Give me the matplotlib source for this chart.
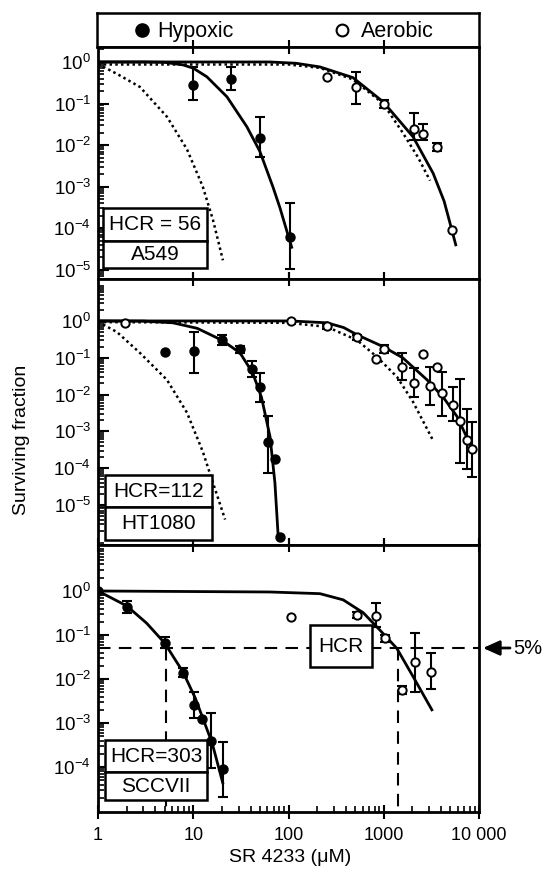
import numpy as np
import matplotlib
matplotlib.use('Agg')
import matplotlib.pyplot as plt
from matplotlib.patches import Rectangle
from matplotlib.ticker import FixedLocator, LogLocator, NullFormatter, FixedFormatter

plt.rcParams['font.family'] = ['Liberation Sans', 'DejaVu Sans']
plt.rcParams['mathtext.fontset'] = 'custom'
plt.rcParams['mathtext.rm'] = 'Liberation Sans'
plt.rcParams['mathtext.default'] = 'regular'

### データ (SR 4233 濃度 [uM] と生存率)
# --- A549 ---
a549_hyp_x = [10, 25, 50, 104]
a549_hyp_y = [0.28, 0.39, 0.015, 6.3e-5]
a549_hyp_lo = [0.12, 0.21, 0.0052, 1.05e-5]
a549_hyp_hi = [0.76, 0.76, 0.048, 4.1e-4]
a549_aer_x = [254, 512, 1010, 2090, 2600, 3640, 5200]
a549_aer_y = [0.44, 0.25, 0.10, 0.025, 0.019, 0.009, 9e-5]
a549_aer_lo = [np.nan, 0.10, 0.08, 0.013, 0.013, 0.0073, np.nan]
a549_aer_hi = [np.nan, 0.58, 0.125, 0.059, 0.032, 0.011, np.nan]
a549_hyp_fit_x = [1, 3, 5, 7.8, 10, 13.9, 22.6, 36.6, 50, 68.5, 81, 100, 108]
a549_hyp_fit_y = [1.0, 1.0, 0.98, 0.85, 0.71, 0.44, 0.145, 0.0275, 0.0071, 1.0e-3, 3.2e-4, 6.3e-5, 3.5e-5]
a549_hyp_dot_x = [1, 1.6, 2.76, 5.3, 8.6, 12.6, 16.1, 20.5]
a549_hyp_dot_y = [0.89, 0.51, 0.25, 0.048, 0.0079, 1.0e-3, 1.6e-4, 1.7e-5]
a549_aer_fit_x = [1, 64, 120, 214, 475, 985, 2033, 3300, 4300, 5200, 5700]
a549_aer_fit_y = [1.0, 1.0, 0.93, 0.76, 0.42, 0.11, 0.0158, 2.1e-3, 4.5e-4, 8.9e-5, 4.0e-5]
a549_aer_dot_x = [1, 100, 214, 475, 985, 1580, 2300, 3060]
a549_aer_dot_y = [0.87, 0.87, 0.72, 0.38, 0.10, 0.02, 5.0e-3, 1.4e-3]

# --- HT1080 ---
ht_hyp_x = [5.05, 10.2, 20, 31, 41.5, 50, 61, 72, 81]
ht_hyp_y = [0.145, 0.155, 0.30, 0.17, 0.05, 0.016, 5.0e-4, 1.8e-4, 1.35e-6]
ht_hyp_lo = [np.nan, 0.039, 0.22, 0.135, 0.030, 0.0063, 7.4e-5, np.nan, np.nan]
ht_hyp_hi = [np.nan, 0.5, 0.42, 0.21, 0.082, 0.039, 0.0026, np.nan, np.nan]
ht_aer_x = [1.92, 106, 254, 525, 830, 1010, 1560, 2090, 2600, 3060, 3650, 4100, 5300, 6300, 7400, 8400]
ht_aer_y = [0.89, 1.0, 0.72, 0.355, 0.093, 0.174, 0.056, 0.021, 0.126, 0.017, 0.056, 0.011, 0.0052, 0.0019, 5.9e-4, 3.3e-4]
ht_aer_lo = [np.nan, np.nan, 0.62, 0.30, np.nan, 0.135, 0.025, 0.0085, np.nan, 0.0052, np.nan, 0.0026, 0.0019, 1.4e-4, 9.5e-5, 5.8e-5]
ht_aer_hi = [np.nan, np.nan, 0.85, 0.42, np.nan, 0.22, 0.135, 0.052, np.nan, 0.056, np.nan, 0.041, 0.016, 0.026, 0.0041, 0.0018]
ht_hyp_fit_x = [1, 3, 6.1, 11, 20, 31, 42, 52, 64, 72, 78]
ht_hyp_fit_y = [1.0, 0.99, 0.89, 0.63, 0.30, 0.135, 0.039, 8.5e-3, 7.1e-4, 4.0e-5, 1.35e-6]
ht_hyp_dot_x = [1, 1.58, 2.76, 5.3, 8.6, 12.6, 16.1, 21.6]
ht_hyp_dot_y = [0.95, 0.5, 0.135, 0.025, 3.2e-3, 2.8e-4, 4.0e-5, 4.0e-6]
ht_aer_fit_x = [1, 104, 254, 380, 525, 985, 1580, 2850, 4200, 5900, 7400, 8400]
ht_aer_fit_y = [1.0, 1.0, 0.89, 0.66, 0.42, 0.20, 0.10, 0.025, 8.5e-3, 2.5e-3, 7.1e-4, 3.2e-4]
ht_aer_dot_x = [1, 100, 254, 525, 850, 1380, 2030, 3300]
ht_aer_dot_y = [0.93, 0.89, 0.69, 0.30, 0.105, 0.030, 6.3e-3, 5.6e-4]

# --- SCCVII ---
scc_hyp_x = [1, 2.0, 5.05, 7.8, 10.2, 12.3, 15.3, 20.4]
scc_hyp_y = [1.0, 0.44, 0.066, 0.0138, 0.0026, 0.00126, 4.0e-4, 8.9e-5]
scc_hyp_lo = [np.nan, 0.32, 0.05, 0.0112, 0.0013, np.nan, 9.5e-5, 2.1e-5]
scc_hyp_hi = [np.nan, 0.59, 0.089, 0.0178, 0.005, np.nan, 1.7e-3, 3.7e-4]
scc_aer_x = [106, 525, 830, 1030, 1550, 2140, 3140]
scc_aer_y = [0.26, 0.28, 0.27, 0.085, 0.0056, 0.025, 0.0145]
scc_aer_lo = [np.nan, 0.24, 0.15, 0.07, 0.0046, 0.005, 0.006]
scc_aer_hi = [np.nan, 0.33, 0.54, 0.10, 0.0069, 0.11, 0.04]
scc_hyp_fit_x = [1, 2, 3.24, 5.0, 7.8, 10.5, 12.6, 15.8, 20.4]
scc_hyp_fit_y = [1.0, 0.46, 0.186, 0.066, 0.0145, 3.7e-3, 1.29e-3, 3.5e-4, 4.4e-5]
scc_aer_fit_x = [1, 64, 214, 375, 610, 912, 1370, 2040, 3200]
scc_aer_fit_y = [1.0, 0.95, 0.87, 0.63, 0.32, 0.129, 0.05, 0.0112, 2.0e-3]
scc_hcr_x = [5.2, 1410]   # 5% レベルでの濃度
level_5 = 0.05

x_ticks = [1, 10, 100, 1000, 10000]
x_ticklabels = ['1', '10', '100', '1000', '10 000']

W, H = 542, 869
fig = plt.figure(figsize=(W / 100, H / 100), dpi=100)


### ピクセル座標から axes を作る
def px_axes(x0, y0, x1, y1):
    return fig.add_axes([x0 / W, 1 - y1 / H, (x1 - x0) / W, (y1 - y0) / H])


### ピクセル座標で白い枠とテキストを描く
def px_box(x0, y0, x1, y1, text, size=15):
    fig.add_artist(Rectangle((x0 / W, 1 - y1 / H), (x1 - x0) / W, (y1 - y0) / H,
                             transform=fig.transFigure, facecolor='white',
                             edgecolor='black', lw=1.8, zorder=5))
    fig.text((x0 + x1) / 2 / W, 1 - (y0 + y1) / 2 / H, text, ha='center', va='center',
             fontsize=size, zorder=6)


def errpts(ax, x, y, lo, hi, filled):
    x, y, lo, hi = map(np.asarray, (x, y, lo, hi))
    m = ~np.isnan(lo)
    ax.errorbar(x[m], y[m], yerr=[y[m] - lo[m], hi[m] - y[m]], fmt='none',
                ecolor='black', elinewidth=1.5, capsize=3.5, capthick=1.5, zorder=3)
    if filled:
        ax.plot(x, y, 'o', ms=6.5, mfc='black', mec='black', zorder=4)
    else:
        ax.plot(x, y, 'o', ms=6, mfc='white', mec='black', mew=1.4, zorder=4)


def setup_axes(ax, ylog_lo, ylog_hi, ymajor, bottom_labels=False):
    ax.set_xscale('log')
    ax.set_yscale('log')
    ax.set_xlim(1, 1e4)
    ax.set_ylim(10 ** ylog_lo, 10 ** ylog_hi)
    for s in ax.spines.values():
        s.set_linewidth(2)
    ax.yaxis.set_major_locator(FixedLocator(ymajor))
    ax.yaxis.set_minor_locator(LogLocator(base=10, subs=np.arange(2, 10), numticks=20))
    ax.yaxis.set_minor_formatter(NullFormatter())
    ax.tick_params(axis='y', which='major', direction='in', length=8, width=1.5,
                   labelsize=13.5, pad=5)
    ax.tick_params(axis='y', which='minor', direction='in', length=4, width=1.2)
    if bottom_labels:
        ax.xaxis.set_major_locator(FixedLocator(x_ticks))
        ax.xaxis.set_major_formatter(FixedFormatter(x_ticklabels))
        ax.xaxis.set_minor_locator(LogLocator(base=10, subs=np.arange(2, 10), numticks=20))
        ax.xaxis.set_minor_formatter(NullFormatter())
        ax.tick_params(axis='x', which='major', direction='inout', length=10, width=1.5,
                       top=True, labelsize=13, pad=6)
        ax.tick_params(axis='x', which='minor', direction='in', length=4, width=1.2,
                       top=False)
    else:
        ax.xaxis.set_major_locator(FixedLocator([10, 100, 1000]))
        ax.xaxis.set_minor_locator(FixedLocator([]))
        ax.tick_params(axis='x', which='major', direction='inout', length=10, width=1.5,
                       top=True, labelbottom=False)


# 凡例の枠
leg = px_axes(97, 13, 479, 47)
leg.set_xticks([])
leg.set_yticks([])
for s in leg.spines.values():
    s.set_linewidth(1.8)
leg.plot([0.118], [0.5], 'o', ms=9.5, mfc='black', mec='black', transform=leg.transAxes)
leg.plot([0.641], [0.5], 'o', ms=8.5, mfc='white', mec='black', mew=1.5, transform=leg.transAxes)
leg.text(0.157, 0.47, 'Hypoxic', fontsize=15.5, va='center', transform=leg.transAxes)
leg.text(0.691, 0.47, 'Aerobic', fontsize=15.5, va='center', transform=leg.transAxes)

ylabels6 = [1e0, 1e-1, 1e-2, 1e-3, 1e-4, 1e-5]
dot = (0, (1, 1.3))

# A549
ax1 = px_axes(98, 47, 479, 279)
setup_axes(ax1, -5.22, 0.36, ylabels6)
ax1.plot(a549_hyp_fit_x, a549_hyp_fit_y, 'k-', lw=2)
ax1.plot(a549_aer_fit_x, a549_aer_fit_y, 'k-', lw=2)
ax1.plot(a549_hyp_dot_x, a549_hyp_dot_y, 'k', ls=dot, lw=1.8)
ax1.plot(a549_aer_dot_x, a549_aer_dot_y, 'k', ls=dot, lw=1.8)
errpts(ax1, a549_hyp_x, a549_hyp_y, a549_hyp_lo, a549_hyp_hi, True)
errpts(ax1, a549_aer_x, a549_aer_y, a549_aer_lo, a549_aer_hi, False)
px_box(103, 208, 207, 241, 'HCR = 56')
px_box(103, 241, 207, 268, 'A549')

# HT1080
ax2 = px_axes(98, 279, 479, 545)
setup_axes(ax2, -6.09, 1.14, ylabels6)
ax2.plot(ht_hyp_fit_x, ht_hyp_fit_y, 'k-', lw=2)
ax2.plot(ht_aer_fit_x, ht_aer_fit_y, 'k-', lw=2)
ax2.plot(ht_hyp_dot_x, ht_hyp_dot_y, 'k', ls=dot, lw=1.8)
ax2.plot(ht_aer_dot_x, ht_aer_dot_y, 'k', ls=dot, lw=1.8)
errpts(ax2, ht_hyp_x, ht_hyp_y, ht_hyp_lo, ht_hyp_hi, True)
errpts(ax2, ht_aer_x, ht_aer_y, ht_aer_lo, ht_aer_hi, False)
px_box(105, 475, 212, 507, 'HCR=112')
px_box(105, 507, 212, 540, 'HT1080')

# SCCVII
ax3 = px_axes(98, 545, 479, 812)
setup_axes(ax3, -5.02, 1.045, ylabels6[:5], bottom_labels=True)
ax3.plot(scc_hyp_fit_x, scc_hyp_fit_y, 'k-', lw=2)
ax3.plot(scc_aer_fit_x, scc_aer_fit_y, 'k-', lw=2)
ax3.axhline(level_5, color='black', lw=1.5, ls=(0, (6, 4)))
for xv in scc_hcr_x:
    ax3.plot([xv, xv], [level_5, 10 ** -5.02], color='black', lw=1.5, ls=(0, (6, 4)))
errpts(ax3, scc_hyp_x, scc_hyp_y, scc_hyp_lo, scc_hyp_hi, True)
errpts(ax3, scc_aer_x, scc_aer_y, scc_aer_lo, scc_aer_hi, False)
px_box(310, 625, 372, 667, 'HCR')
px_box(105, 740, 207, 772, 'HCR=303')
px_box(105, 772, 207, 800, 'SCCVII')

# 5% の矢印
ax3.annotate('', xy=(483, H - 648), xytext=(510, H - 648), xycoords='figure pixels',
             textcoords='figure pixels',
             arrowprops=dict(arrowstyle='-|>,head_length=1.0,head_width=0.45',
                             color='black', lw=2, shrinkA=0, shrinkB=0))
fig.text(513 / W, 1 - 648 / H, '5%', fontsize=14.5, va='center', ha='left')

fig.text(22 / W, 1 - 440 / H, 'Surviving fraction', rotation=90, ha='center', va='center',
         fontsize=14)
fig.text(290 / W, 1 - 857 / H, 'SR 4233 (μM)', ha='center', va='center', fontsize=14)

fig.savefig('out.png', dpi=100)
